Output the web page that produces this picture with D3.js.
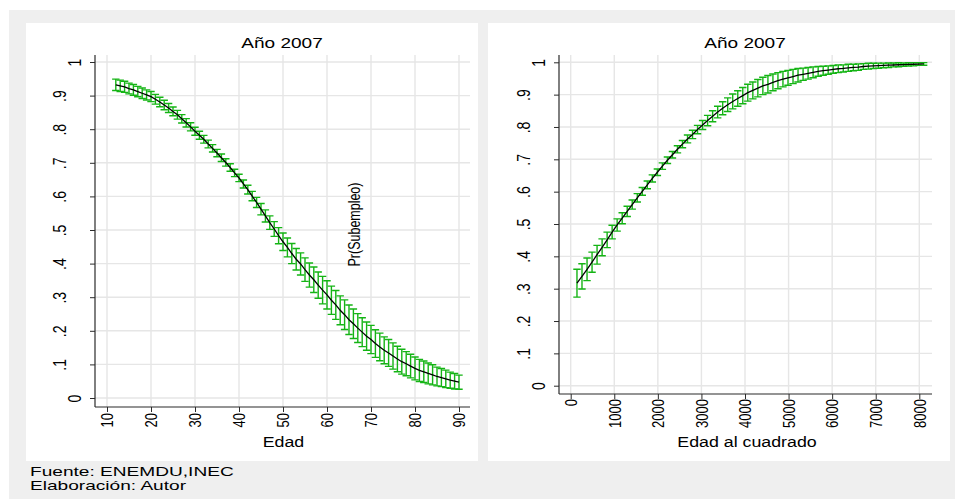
<!DOCTYPE html>
<html>
<head>
<meta charset="utf-8">
<script src="https://cdn.jsdelivr.net/npm/d3@7"></script>
<style>
  html, body { margin: 0; padding: 0; background: #ffffff; }
  svg { display: block; }
  text { font-family: "Liberation Sans", Arial, Helvetica, sans-serif; fill: #000; }
</style>
</head>
<body>
<svg id="chart" width="955" height="499"></svg>
<script>
// ---- Predicted Pr(Subempleo) by age (left panel) ----
const edad = [12,13,14,15,16,17,18,19,20,21,22,23,24,25,26,27,28,29,30,31,32,33,34,35,36,37,38,39,40,
  41,42,43,44,45,46,47,48,49,50,51,52,53,54,55,56,57,58,59,60,61,62,63,64,65,66,67,68,69,70,
  71,72,73,74,75,76,77,78,79,80,81,82,83,84,85,86,87,88,89,90];
const prEdad = [.932,.929,.926,.921,.917,.912,.907,.902,.897,.889,.881,.872,.863,.853,.843,.831,.819,.807,.794,
  .782,.770,.756,.743,.729,.715,.701,.686,.670,.655,.637,.620,.601,.582,.562,.542,.522,.503,.483,.465,
  .448,.430,.413,.399,.382,.366,.352,.336,.321,.307,.291,.277,.261,.248,.233,.221,.208,.196,.184,.174,
  .162,.152,.142,.134,.125,.116,.108,.102,.095,.088,.082,.078,.073,.069,.064,.061,.057,.053,.050,.047];
// half-width of the 95% confidence interval
const ciEdad = [.017,.017,.0165,.016,.016,.0155,.0155,.015,.015,.0145,.014,.014,.0135,.013,.013,.0125,.0125,.012,.012,
  .012,.0115,.0115,.011,.011,.011,.011,.011,.011,.011,.012,.013,.014,.015,.017,.018,.020,.022,.024,.026,
  .028,.030,.032,.033,.035,.036,.038,.039,.041,.042,.042,.043,.043,.044,.044,.044,.043,.043,.042,.042,
  .041,.041,.040,.040,.039,.038,.037,.036,.035,.034,.033,.032,.031,.030,.028,.027,.026,.024,.023,.021];

// ---- Predicted Pr(Subempleo) by squared age (right panel) ----
const edad2 = [144,259,375,490,605,721,836,951,1066,1182,1297,1412,1528,1643,1758,1874,1989,2104,2220,2335,
  2450,2565,2681,2796,2911,3027,3142,3257,3373,3488,3603,3718,3834,3949,4064,4180,4295,4410,4526,4641,
  4756,4871,4987,5102,5217,5333,5448,5563,5679,5794,5909,6024,6140,6255,6370,6486,6601,6716,6832,6947,
  7062,7178,7293,7408,7523,7639,7754,7869,7985,8100];
const prEdad2 = [.317,.338,.360,.382,.405,.428,.451,.475,.497,.518,.539,.560,.581,.601,.621,.641,.660,.679,.697,.714,
  .731,.747,.763,.777,.792,.806,.820,.833,.846,.858,.869,.879,.888,.897,.906,.913,.920,.927,.932,.938,
  .943,.948,.952,.956,.960,.963,.966,.969,.972,.974,.976,.978,.980,.981,.983,.984,.985,.987,.988,.989,
  .9895,.9903,.991,.9917,.9924,.993,.9935,.994,.9945,.9949];
const ciEdad2 = [.043,.039,.035,.031,.029,.026,.024,.021,.019,.017,.016,.014,.013,.012,.012,.011,.010,.010,.010,.010,
  .011,.011,.012,.013,.013,.014,.016,.017,.018,.020,.021,.023,.024,.025,.026,.026,.027,.027,.027,.026,
  .025,.024,.023,.022,.021,.019,.018,.017,.015,.014,.013,.012,.012,.011,.011,.010,.010,.009,.009,.008,
  .008,.007,.007,.006,.006,.005,.005,.005,.004,.004];

// ---- Axis ticks and texts ----
const probTicks = [0, .1, .2, .3, .4, .5, .6, .7, .8, .9, 1];
const edadTicks = [10, 20, 30, 40, 50, 60, 70, 80, 90];
const edad2Ticks = [0, 1000, 2000, 3000, 4000, 5000, 6000, 7000, 8000];
const panelTitle = "Año 2007";
const yTitle = "Pr(Subempleo)";
const xTitleLeft = "Edad";
const xTitleRight = "Edad al cuadrado";
const notes = ["Fuente: ENEMDU,INEC", "Elaboración: Autor"];

// Stata-style probability labels: 0, .1, ... , 1
const probFmt = d => (d === 0 || d === 1) ? String(d) : String(+d.toFixed(1)).replace(/^0/, "");

const SX = 1.27;            // horizontal widening of the lettering
const GREEN = "#14b414";
const GRID = "#e6e6e6";
const AXIS = "#2b2b2b";

const svg = d3.select("#chart");

// background: light grey frame with two white graph regions
svg.append("rect").attr("x", 0).attr("y", 0).attr("width", 955).attr("height", 499).attr("fill", "#ffffff");
svg.append("rect").attr("x", 9).attr("y", 10).attr("width", 946).attr("height", 489).attr("fill", "#efefef");
svg.append("rect").attr("x", 26).attr("y", 23).attr("width", 452).attr("height", 438).attr("fill", "#ffffff");
svg.append("rect").attr("x", 488).attr("y", 23).attr("width", 462).attr("height", 438).attr("fill", "#ffffff");

function drawPanel(cfg) {
  const { plot, xDomain, xRange, yRange, xs, ys, hw, xTicks, xFmt, title, titleX, xTitle, xTitleX } = cfg;
  const g = svg.append("g");
  const x = d3.scaleLinear().domain(xDomain).range(xRange);
  const y = d3.scaleLinear().domain([0, 1]).range(yRange);

  // grid
  g.append("g").selectAll("line").data(probTicks).join("line")
    .attr("x1", plot.x0).attr("x2", plot.x1)
    .attr("y1", d => y(d)).attr("y2", d => y(d))
    .attr("stroke", GRID).attr("stroke-width", 1.4);
  g.append("g").selectAll("line").data(xTicks).join("line")
    .attr("x1", d => x(d)).attr("x2", d => x(d))
    .attr("y1", plot.y0).attr("y2", plot.y1)
    .attr("stroke", GRID).attr("stroke-width", 1.4);

  // y axis
  const yAxis = g.append("g").attr("transform", `translate(${plot.x0},0)`)
    .call(d3.axisLeft(y).tickValues(probTicks).tickSize(5).tickSizeOuter(0).tickFormat(probFmt));
  yAxis.select(".domain").remove();
  yAxis.selectAll(".tick line").attr("stroke", AXIS);
  yAxis.selectAll(".tick text")
    .attr("x", 0).attr("y", 0).attr("dy", 0)
    .attr("text-anchor", "middle")
    .style("font-size", "14px").style("font-family", null).attr("fill", "#000")
    .attr("transform", d => `translate(${(d === 0 || d === 1) ? -14 : -29},0) scale(${SX},1) rotate(-90)`);

  // x axis
  const xAxis = g.append("g").attr("transform", `translate(0,${plot.y1})`)
    .call(d3.axisBottom(x).tickValues(xTicks).tickSize(5).tickSizeOuter(0).tickFormat(xFmt));
  xAxis.select(".domain").remove();
  xAxis.selectAll(".tick line").attr("stroke", AXIS);
  xAxis.selectAll(".tick text")
    .attr("x", 0).attr("y", 0).attr("dy", "0.35em")
    .attr("text-anchor", "end")
    .style("font-size", "13px").style("font-family", null).attr("fill", "#000")
    .attr("transform", `translate(0,${cfg.xLabGap}) scale(${SX},1) rotate(-90)`);

  // axis lines
  g.append("line").attr("x1", plot.x0).attr("x2", plot.x0).attr("y1", plot.y0).attr("y2", plot.y1)
    .attr("stroke", AXIS).attr("stroke-width", 1.2);
  g.append("line").attr("x1", plot.x0).attr("x2", plot.x1).attr("y1", plot.y1).attr("y2", plot.y1)
    .attr("stroke", AXIS).attr("stroke-width", 1.2);

  // confidence intervals (capped spikes)
  const pts = xs.map((v, i) => ({ x: v, p: ys[i], lo: ys[i] - hw[i], hi: ys[i] + hw[i] }));
  const cap = 3.7;
  const bars = g.append("g").attr("stroke", GREEN).attr("stroke-width", 1.4).attr("fill", "none");
  bars.selectAll("path").data(pts).join("path")
    .attr("d", d => {
      const cx = x(d.x), yl = y(d.lo), yh = y(d.hi);
      return `M${cx - cap},${yh}H${cx + cap}M${cx},${yh}V${yl}M${cx - cap},${yl}H${cx + cap}`;
    });

  // predicted probability
  g.append("path").datum(pts)
    .attr("fill", "none").attr("stroke", "#000").attr("stroke-width", 1.3)
    .attr("d", d3.line().x(d => x(d.x)).y(d => y(d.p)));

  // titles
  g.append("text").attr("text-anchor", "middle").style("font-size", "15px")
    .attr("transform", `translate(${titleX},48) scale(${SX},1)`).text(title);
  g.append("text").attr("text-anchor", "middle").style("font-size", "14px")
    .attr("transform", `translate(${xTitleX},446.5) scale(${SX},1)`).text(xTitle);
  return { x, y, g };
}

const left = drawPanel({
  plot: { x0: 95, x1: 470, y0: 55, y1: 407 },
  xDomain: [10, 90], xRange: [107, 459], yRange: [398, 62],
  xs: edad, ys: prEdad, hw: ciEdad,
  xTicks: edadTicks, xFmt: d3.format("d"), xLabGap: 6,
  title: panelTitle, titleX: 282, xTitle: xTitleLeft, xTitleX: 283.5
});

drawPanel({
  plot: { x0: 559, x1: 932, y0: 55, y1: 394 },
  xDomain: [0, 8000], xRange: [570.7, 919.3], yRange: [385.7, 62.3],
  xs: edad2, ys: prEdad2, hw: ciEdad2,
  xTicks: edad2Ticks, xFmt: d3.format("d"), xLabGap: 5,
  title: panelTitle, titleX: 745, xTitle: xTitleRight, xTitleX: 747
});

// y-axis title drawn inside the left graph region
left.g.append("text").attr("text-anchor", "middle").style("font-size", "12.5px")
  .attr("transform", `translate(360,224.5) scale(${SX},1) rotate(-90)`).text(yTitle);

// source notes, stacked under the graphs
svg.append("g").selectAll("text").data(notes).join("text")
  .style("font-size", "13px")
  .attr("transform", (d, i) => `translate(30,${475.5 + i * 14.5}) scale(1.47,1)`)
  .text(d => d);
</script>
</body>
</html>
